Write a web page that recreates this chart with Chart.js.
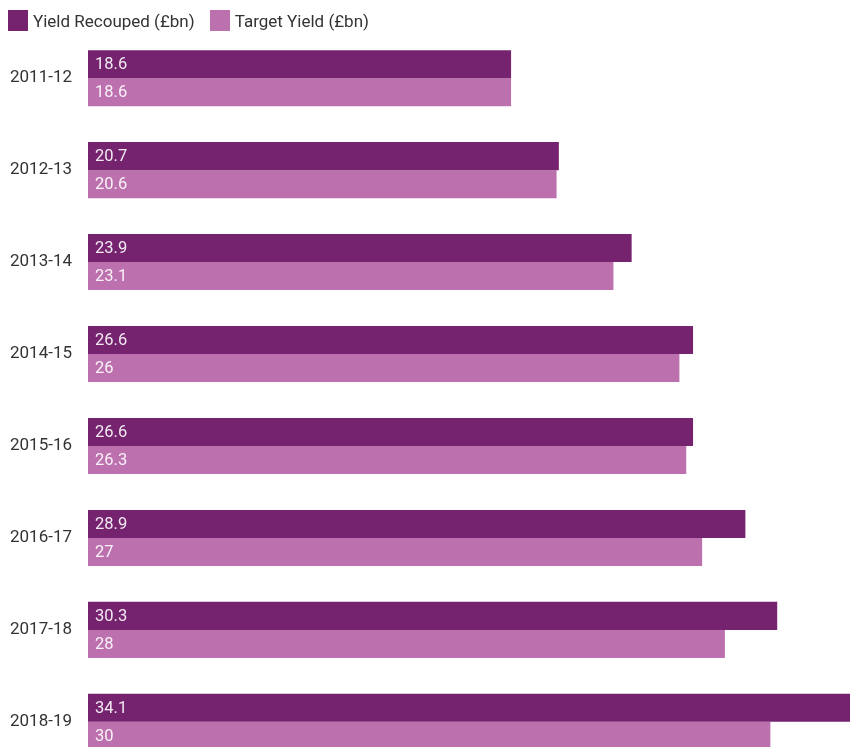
<!DOCTYPE html>
<html>
<head>
<meta charset="utf-8">
<script src="https://cdn.jsdelivr.net/npm/chart.js@4"></script>
<style>
  html, body { margin: 0; padding: 0; background: #fff; overflow: hidden; }
  body { width: 850px; height: 747px; position: relative; font-family: Roboto, sans-serif; }
  #legend { position: absolute; left: 8px; top: 10px; height: 21px; display: flex; align-items: center; font-size: 17px; color: #333; z-index: 2; }
  #legend .item { display: flex; align-items: center; margin-right: 15px; }
  #legend .box { width: 20px; height: 21px; margin-right: 5px; }
  /* y tick padding adds ~27px above and below the plot area, so the canvas starts higher */
  #wrap { position: absolute; left: 0; top: 6px; width: 850px; height: 788px; }
</style>
</head>
<body>
<div id="legend"></div>
<div id="wrap"><canvas id="chart"></canvas></div>
<script>
const years = ['2011-12', '2012-13', '2013-14', '2014-15', '2015-16', '2016-17', '2017-18', '2018-19']
const recouped = [18.6, 20.7, 23.9, 26.6, 26.6, 28.9, 30.3, 34.1]
const target = [18.6, 20.6, 23.1, 26, 26.3, 27, 28, 30]

const DARK = '#75226f'
const LIGHT = '#bd70ae'

// value labels drawn at the start of each bar
const barLabels = {
  id: 'barLabels',
  afterDatasetsDraw(chart) {
    const { ctx } = chart
    ctx.save()
    ctx.font = '16.5px Roboto, sans-serif'
    ctx.fillStyle = 'rgba(255,255,255,0.9)'
    ctx.textAlign = 'left'
    ctx.textBaseline = 'middle'
    chart.data.datasets.forEach((ds, i) => {
      chart.getDatasetMeta(i).data.forEach((bar, j) => {
        ctx.fillText(String(ds.data[j]), bar.base + 7, bar.y + 1)
      })
    })
    ctx.restore()
  }
}

const chart = new Chart(document.getElementById('chart'), {
  type: 'bar',
  data: {
    labels: years,
    datasets: [
      { label: 'Yield Recouped (£bn)', data: recouped, backgroundColor: DARK },
      { label: 'Target Yield (£bn)', data: target, backgroundColor: LIGHT }
    ]
  },
  options: {
    indexAxis: 'y',
    responsive: true,
    maintainAspectRatio: false,
    animation: false,
    layout: { padding: 0 },
    datasets: { bar: { categoryPercentage: 0.61, barPercentage: 1.0 } },
    scales: {
      x: { display: false, min: 0, max: 33.5 },
      y: {
        grid: { display: false, drawTicks: false },
        border: { display: false },
        ticks: { color: '#333', font: { family: 'Roboto', size: 17 }, padding: 16 },
        afterFit: s => { s.width = 88 }
      }
    },
    plugins: {
      legend: { display: false },
      tooltip: { enabled: false }
    }
  },
  plugins: [barLabels]
})

const legendEl = document.getElementById('legend')
legendEl.innerHTML = chart.data.datasets.map(ds =>
  `<div class="item"><span class="box" style="background:${ds.backgroundColor}"></span>${ds.label}</div>`
).join('')
</script>
</body>
</html>
